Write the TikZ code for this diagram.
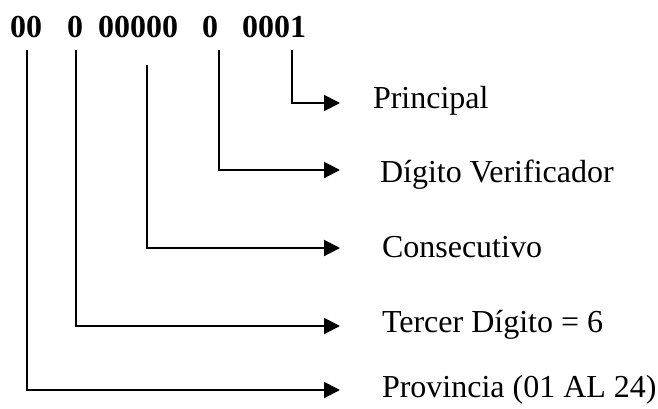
\documentclass[tikz,border=0pt]{standalone}
\usepackage{fontspec}
\setmainfont{Liberation Serif}
\usetikzlibrary{arrows.meta}

\begin{document}
\begin{tikzpicture}
  [x=1pt,y=-1pt,line width=2pt,
   every node/.style={inner sep=0pt,anchor=base west},
   code/.style={font=\fontsize{32}{38}\selectfont\bfseries},
   desc/.style={font=\fontsize{32}{38}\selectfont},
   tip/.style={-{Triangle[length=16pt,width=16pt]}}]
    \useasboundingbox (0,0) rectangle (658,408);

    % code digits
    \node (g1)[code] at (9,37)   {00};
    \node (g2)[code] at (66,37)  {0};
    \node (g3)[code] at (97,37)  {00000};
    \node (g4)[code] at (201,37) {0};
    \node (g5)[code] at (241,37) {0001};

    % start points under the digits
    \coordinate (s1) at (27,50);
    \coordinate (s2) at (76,50);
    \coordinate (s3) at (147,65);
    \coordinate (s4) at (219,50);
    \coordinate (s5) at (292,50);

    % arrow tips
    \coordinate (t1) at (340,390);
    \coordinate (t2) at (340,326);
    \coordinate (t3) at (340,248);
    \coordinate (t4) at (340,170);
    \coordinate (t5) at (340,103);

    \node (d1)[desc] at (381,397) {Provincia (01 AL 24)};
    \node (d2)[desc] at (381,332) {Tercer Dígito = 6};
    \node (d3)[desc] at (381,257) {Consecutivo};
    \node (d4)[desc] at (379,182) {Dígito Verificador};
    \node (d5)[desc] at (372,108) {Principal};

    \foreach \from/\to in {s1/t1,s2/t2,s3/t3,s4/t4,s5/t5}
      \draw[tip] (\from) |- (\to);
  \end{tikzpicture}
\end{document}
